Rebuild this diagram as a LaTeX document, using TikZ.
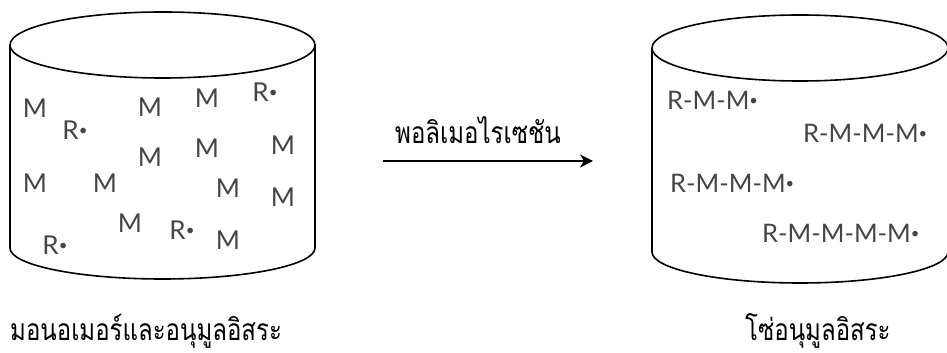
\documentclass[tikz,border=0pt]{standalone}
\usepackage{fontspec}
\usetikzlibrary{arrows.meta}
\setmainfont{Lato}
\newfontfamily\thaifont[Script=Thai, FakeStretch=0.8]{Loma}
\definecolor{txtgray}{HTML}{454545}
\newcommand{\raddot}{\raisebox{0.14em}{\scalebox{0.58}{•}}}
\begin{document}
\begin{tikzpicture}[x=1pt,y=1pt,
  cyl/.style={line width=1.6pt, line join=round},
  mono/.style={font=\fontsize{26}{26}\selectfont, text=txtgray, inner sep=0pt},
  chain/.style={font=\fontsize{25.5}{26}\selectfont, text=txtgray, inner sep=0pt, anchor=west},
  thlabel/.style={font=\thaifont\fontsize{30}{32}\selectfont, text=black, inner sep=0pt, anchor=base},
  conn/.style={line width=1.6pt, -{Stealth[length=13pt,width=13pt,inset=4pt]}}]
\useasboundingbox (0,0) rectangle (947,353);
\clip (0,0) rectangle (947,353);
% left cylinder
\draw[cyl] (162.5,308) ellipse [x radius=152.5, y radius=33];
\draw[cyl] (10,308) -- (10,105) arc[start angle=180, end angle=360, x radius=152.5, y radius=31] -- (315,308);
% right cylinder
\draw[cyl] (800,305) ellipse [x radius=148, y radius=33];
\draw[cyl] (652,305) -- (652,101) arc[start angle=180, end angle=360, x radius=148, y radius=31] -- (948,305);
% left contents
\node[mono] (m1) at (35,245) {M};
\node[mono] (r1) at (75,223) {R\raddot};
\node[mono] (m2) at (150,246) {M};
\node[mono] (m3) at (207,255) {M};
\node[mono] (r2) at (265,261) {R\raddot};
\node[mono] (m4) at (150,196) {M};
\node[mono] (m5) at (207,205) {M};
\node[mono] (m6) at (283,208) {M};
\node[mono] (m7) at (35,170) {M};
\node[mono] (m8) at (105,170) {M};
\node[mono] (m9) at (228,165) {M};
\node[mono] (m10) at (283,156) {M};
\node[mono] (m11) at (130,130) {M};
\node[mono] (r3) at (182,123) {R\raddot};
\node[mono] (m12) at (228,113) {M};
\node[mono] (r4) at (55,108) {R\raddot};
% right contents
\node[chain] (c1) at (667,253) {R-M-M\raddot};
\node[chain] (c2) at (803,220) {R-M-M-M\raddot};
\node[chain] (c3) at (670,170) {R-M-M-M\raddot};
\node[chain] (c4) at (762,120) {R-M-M-M-M\raddot};
% arrow
\coordinate (a1) at (383,192);
\coordinate (a2) at (593,192);
\draw[conn] (a1) -- (a2);
\node[thlabel] (lab) at (478,209) {พอลิเมอไรเซชัน};
% captions
\node[thlabel, anchor=base west] (capL) at (10,12) {มอนอเมอร์และอนุมูลอิสระ};
\node[thlabel, anchor=base west] (capR) at (745,12) {โซ่อนุมูลอิสระ};
\end{tikzpicture}
\end{document}
